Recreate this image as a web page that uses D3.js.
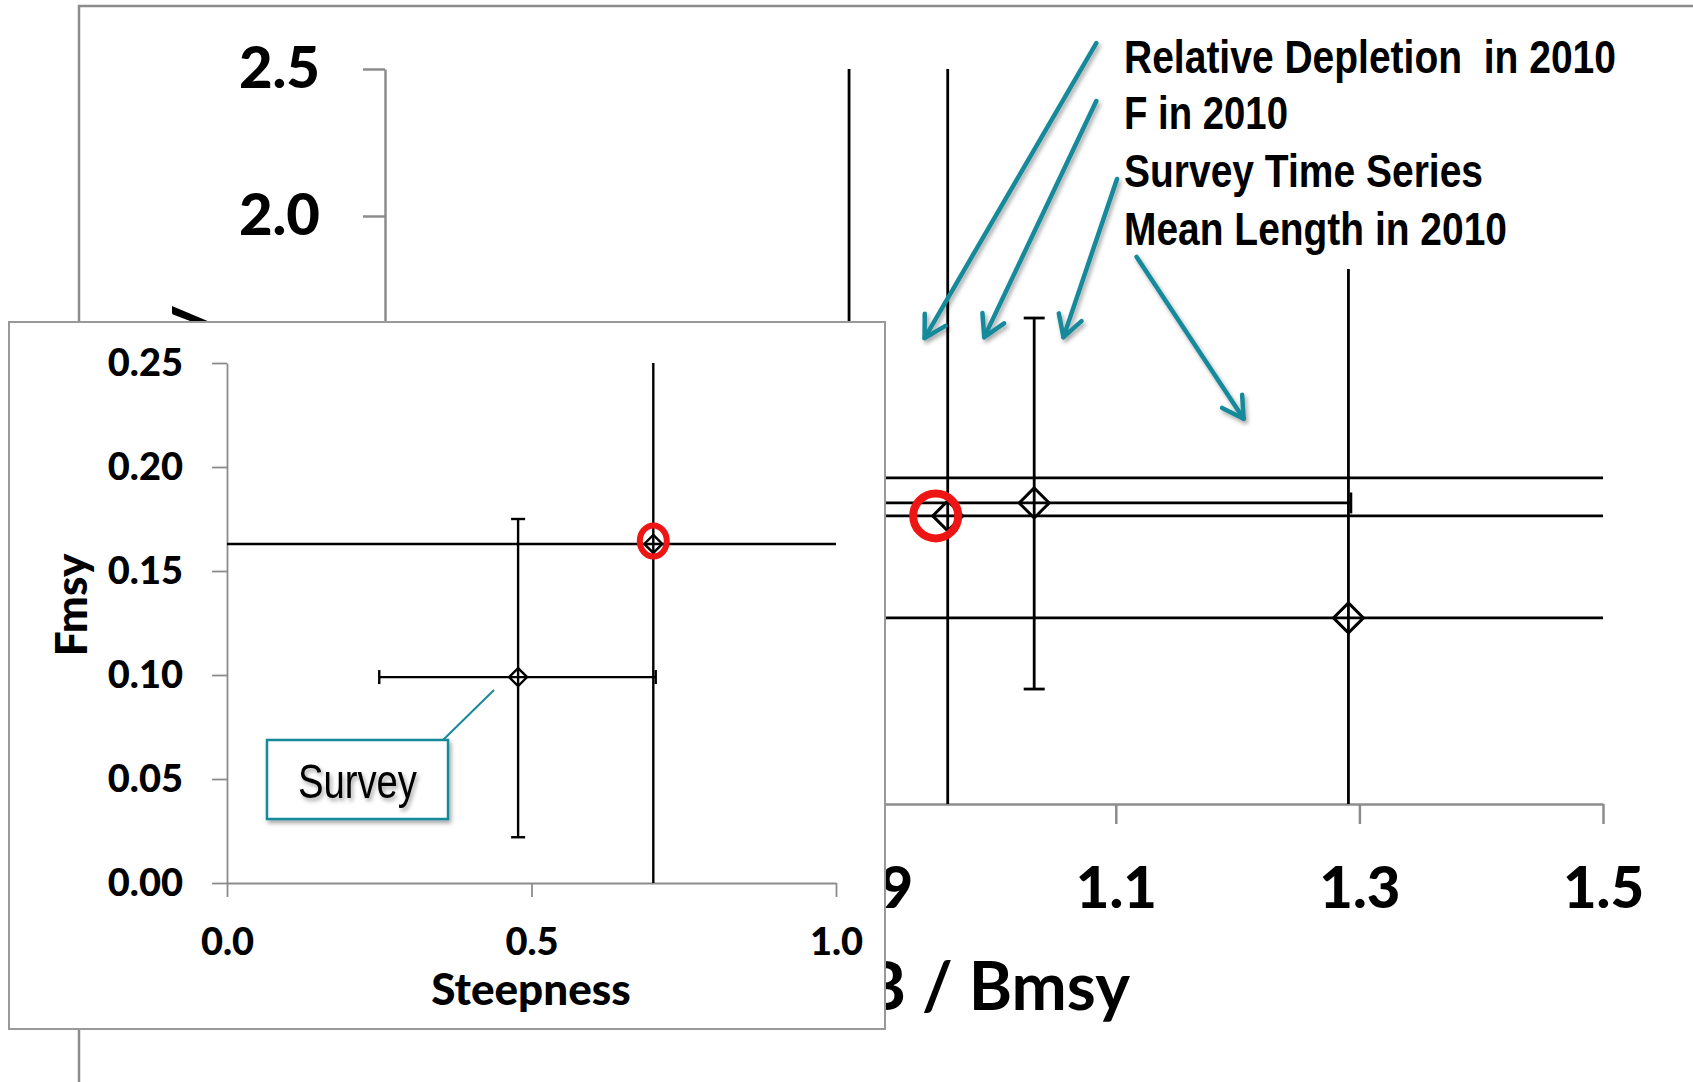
<!DOCTYPE html>
<html>
<head>
<meta charset="utf-8">
<script src="https://cdn.jsdelivr.net/npm/d3@7"></script>
<style>
    body { margin: 0; background: #fff; }
    svg { display: block; }
</style>
</head>
<body>
<svg id="chart"></svg>
<script>
// Main chart: B / Bmsy (x) vs F / Fmsy (y), one point per data type
const mainX = [0.881, 0.962, 1.033, 1.291];
const mainY = [1.109, 0.980, 1.024, 0.633];
const mainXLo = [0.40, 0.40, 0.77, 0.40];
const mainXHi = [1.60, 1.60, 1.293, 1.60];
const mainYLo = [-0.20, -0.20, 0.391, -0.20];
const mainYHi = [2.70, 2.70, 1.653, 1.82];
const mainCaps = [false, false, true, false];
const mainHighlight = 1;
const mainXTicks = [0.5, 0.7, 0.9, 1.1, 1.3, 1.5];
const mainYTicks = [0, 0.5, 1.0, 1.5, 2.0, 2.5];

// Inset: Steepness (x) vs Fmsy (y)
const steep = [0.700, 0.478];
const fmsy = [0.163, 0.099];
const steepLo = [-0.20, 0.250];
const steepHi = [1.20, 0.704];
const fmsyLo = [-0.05, 0.022];
const fmsyHi = [0.30, 0.175];
const insetCaps = [false, true];
const insetHighlight = 0;
const insetXTicks = [0, 0.5, 1.0];
const insetYTicks = [0, 0.05, 0.10, 0.15, 0.20, 0.25];

// Annotations (arrows in main-chart data units)
const labelText = ['Relative Depletion  in 2010', 'F in 2010', 'Survey Time Series', 'Mean Length in 2010'];
const arrowFrom = [[1.084, 2.588], [1.084, 2.391], [1.101, 2.126], [1.117, 1.861]];
const arrowTo = [[0.943, 1.585], [0.992, 1.588], [1.057, 1.588], [1.205, 1.310]];

const W = 1693, H = 1082;
const TEAL = '#17899a';
const RED = '#ee1515';
const AXIS_GREY = '#8c8c8c';
const NUM_FONT = "Lato, 'Open Sans', sans-serif";
const NARROW_FONT = "'Liberation Sans Narrow', 'Arial Narrow', 'Liberation Sans', Arial, sans-serif";

const svg = d3.select('#chart').attr('width', W).attr('height', H);
const defs = svg.append('defs');

// shadows
const shadow = defs.append('filter').attr('id', 'shadow')
    .attr('x', '-20%').attr('y', '-20%').attr('width', '140%').attr('height', '140%');
shadow.append('feDropShadow').attr('dx', 2).attr('dy', 3).attr('stdDeviation', 2)
    .attr('flood-color', '#000').attr('flood-opacity', 0.35);

defs.append('marker').attr('id', 'arrowhead')
    .attr('markerUnits', 'userSpaceOnUse')
    .attr('viewBox', '-26 -16 30 32')
    .attr('markerWidth', 30).attr('markerHeight', 32)
    .attr('refX', 0).attr('refY', 0)
    .attr('orient', 'auto')
    .append('path')
    .attr('d', 'M-21,-12 L0,0 L-21,12')
    .attr('fill', 'none').attr('stroke', TEAL)
    .attr('stroke-width', 4.5).attr('stroke-linecap', 'round').attr('stroke-linejoin', 'round');

const diamond = s => `M0,${-s}L${s},0L0,${s}L${-s},0Z`;

// ---------- main chart ----------
const mx = d3.scaleLinear().domain([0.5, 1.5]).range([385, 1603]);
const my = d3.scaleLinear().domain([0, 2.5]).range([804, 69]);

// outer frame (runs off the page at right and bottom)
svg.append('rect')
    .attr('x', 79).attr('y', 6).attr('width', 1700).attr('height', 1200)
    .attr('fill', '#fff').attr('stroke', AXIS_GREY).attr('stroke-width', 2.5);

defs.append('clipPath').attr('id', 'mainClip').append('rect')
    .attr('x', mx.range()[0]).attr('y', my.range()[1])
    .attr('width', mx.range()[1] - mx.range()[0]).attr('height', my.range()[0] - my.range()[1]);

const gYMain = svg.append('g').attr('transform', `translate(${mx.range()[0]},0)`)
    .call(d3.axisLeft(my).tickValues(mainYTicks).tickSize(22).tickSizeOuter(0).tickFormat(d3.format('.1f')));
const gXMain = svg.append('g').attr('transform', `translate(0,${my.range()[0]})`)
    .call(d3.axisBottom(mx).tickValues(mainXTicks).tickSize(20).tickSizeOuter(0).tickFormat(d3.format('.1f')));
[gYMain, gXMain].forEach(g => {
    g.select('.domain').attr('stroke', AXIS_GREY).attr('stroke-width', 2.5);
    g.selectAll('.tick line').attr('stroke', AXIS_GREY).attr('stroke-width', 2.5);
    g.selectAll('.tick text').attr('fill', '#000').attr('font-family', NUM_FONT)
        .attr('font-weight', 900).attr('font-size', 58);
});
gYMain.selectAll('.tick text').attr('x', -65).attr('dy', '0.32em');
gXMain.selectAll('.tick text').attr('y', 104).attr('dy', null);

svg.append('text')
    .attr('transform', 'translate(206,306) rotate(-90)')
    .attr('text-anchor', 'end')
    .attr('font-family', NUM_FONT).attr('font-weight', 700).attr('font-size', 66)
    .text('F / Fmsy');
svg.append('text')
    .attr('x', 1130).attr('y', 1010).attr('text-anchor', 'end')
    .attr('font-family', NUM_FONT).attr('font-weight', 700).attr('font-size', 66)
    .text('B / Bmsy');

function drawErrorPoints(g, xs, ys, xlo, xhi, ylo, yhi, caps, sx, sy, opt) {
    const idx = d3.range(xs.length);
    const lines = g.append('g').attr('clip-path', `url(#${opt.clip})`)
        .attr('stroke', '#000').attr('fill', 'none');
    lines.selectAll('.hbar').data(idx).join('line')
        .attr('x1', i => sx(xlo[i])).attr('x2', i => sx(xhi[i]))
        .attr('y1', i => sy(ys[i])).attr('y2', i => sy(ys[i]))
        .attr('stroke-width', opt.lw);
    lines.selectAll('.vbar').data(idx).join('line')
        .attr('x1', i => sx(xs[i])).attr('x2', i => sx(xs[i]))
        .attr('y1', i => sy(ylo[i])).attr('y2', i => sy(yhi[i]))
        .attr('stroke-width', opt.lw);
    const capped = idx.filter(i => caps[i]);
    const c = opt.cap;
    capped.forEach(i => {
        [xlo[i], xhi[i]].forEach(v => lines.append('line')
            .attr('x1', sx(v)).attr('x2', sx(v))
            .attr('y1', sy(ys[i]) - c).attr('y2', sy(ys[i]) + c)
            .attr('stroke-width', opt.lw));
        [ylo[i], yhi[i]].forEach(v => lines.append('line')
            .attr('x1', sx(xs[i]) - c).attr('x2', sx(xs[i]) + c)
            .attr('y1', sy(v)).attr('y2', sy(v))
            .attr('stroke-width', opt.lw));
    });
    g.selectAll('.marker').data(idx).join('path')
        .attr('transform', i => `translate(${sx(xs[i])},${sy(ys[i])})`)
        .attr('d', diamond(opt.size))
        .attr('fill', 'none').attr('stroke', '#000').attr('stroke-width', opt.mw);
}

const gMain = svg.append('g');
drawErrorPoints(gMain, mainX, mainY, mainXLo, mainXHi, mainYLo, mainYHi, mainCaps, mx, my,
    { clip: 'mainClip', lw: 2.8, mw: 3, cap: 10.5, size: 15 });

gMain.append('circle')
    .attr('cx', mx(mainX[mainHighlight]) - 12).attr('cy', my(mainY[mainHighlight]))
    .attr('r', 22.5).attr('fill', 'none').attr('stroke', RED).attr('stroke-width', 8);

// arrows and labels
const gArrows = svg.append('g').attr('filter', 'url(#shadow)');
gArrows.selectAll('line').data(d3.range(arrowFrom.length)).join('line')
    .attr('x1', i => mx(arrowFrom[i][0])).attr('y1', i => my(arrowFrom[i][1]))
    .attr('x2', i => mx(arrowTo[i][0])).attr('y2', i => my(arrowTo[i][1]))
    .attr('stroke', TEAL).attr('stroke-width', 4.5).attr('stroke-linecap', 'round')
    .attr('marker-end', 'url(#arrowhead)');

const labelBase = [73, 129, 187, 245];
const labelWidth = [492, 164, 359, 383];
svg.append('g').selectAll('text').data(labelText).join('text')
    .attr('x', 1124).attr('y', (d, i) => labelBase[i])
    .attr('textLength', (d, i) => labelWidth[i]).attr('lengthAdjust', 'spacingAndGlyphs')
    .attr('font-family', NARROW_FONT).attr('font-weight', 700).attr('font-size', 47)
    .attr('xml:space', 'preserve')
    .text(d => d);

// ---------- inset ----------
const ix = d3.scaleLinear().domain([0, 1]).range([227, 836]);
const iy = d3.scaleLinear().domain([0, 0.25]).range([883, 363]);

svg.append('rect')
    .attr('x', 9).attr('y', 322).attr('width', 876).attr('height', 707)
    .attr('fill', '#fff').attr('stroke', '#999').attr('stroke-width', 2);

defs.append('clipPath').attr('id', 'insetClip').append('rect')
    .attr('x', ix.range()[0]).attr('y', iy.range()[1])
    .attr('width', ix.range()[1] - ix.range()[0]).attr('height', iy.range()[0] - iy.range()[1]);

const gYIn = svg.append('g').attr('transform', `translate(${ix.range()[0]},0)`)
    .call(d3.axisLeft(iy).tickValues(insetYTicks).tickSize(15).tickSizeOuter(0).tickFormat(d3.format('.2f')));
const gXIn = svg.append('g').attr('transform', `translate(0,${iy.range()[0]})`)
    .call(d3.axisBottom(ix).tickValues(insetXTicks).tickSize(14).tickSizeOuter(0).tickFormat(d3.format('.1f')));
[gYIn, gXIn].forEach(g => {
    g.select('.domain').attr('stroke', AXIS_GREY).attr('stroke-width', 1.8);
    g.selectAll('.tick line').attr('stroke', AXIS_GREY).attr('stroke-width', 1.8);
    g.selectAll('.tick text').attr('fill', '#000').attr('font-family', NUM_FONT)
        .attr('font-weight', 900).attr('font-size', 38);
});
gYIn.selectAll('.tick text').attr('x', -44).attr('dy', '0.34em');
gXIn.selectAll('.tick text').attr('y', 72).attr('dy', null);

svg.append('text')
    .attr('transform', 'translate(87,605) rotate(-90)')
    .attr('text-anchor', 'middle')
    .attr('font-family', NUM_FONT).attr('font-weight', 900).attr('font-size', 44)
    .text('Fmsy');
svg.append('text')
    .attr('x', 531).attr('y', 1005).attr('text-anchor', 'middle')
    .attr('font-family', NUM_FONT).attr('font-weight', 900).attr('font-size', 44)
    .text('Steepness');

const gIn = svg.append('g');
drawErrorPoints(gIn, steep, fmsy, steepLo, steepHi, fmsyLo, fmsyHi, insetCaps, ix, iy,
    { clip: 'insetClip', lw: 2.4, mw: 2.4, cap: 7, size: 9 });

gIn.append('ellipse')
    .attr('cx', ix(steep[insetHighlight])).attr('cy', iy(fmsy[insetHighlight]) - 3)
    .attr('rx', 13.5).attr('ry', 15.5)
    .attr('fill', 'none').attr('stroke', RED).attr('stroke-width', 6);

// "Survey" callout
svg.append('line')
    .attr('x1', 443).attr('y1', 740).attr('x2', 494).attr('y2', 690)
    .attr('stroke', TEAL).attr('stroke-width', 2);
svg.append('rect')
    .attr('x', 267).attr('y', 740).attr('width', 181).attr('height', 79)
    .attr('fill', '#fff').attr('stroke', TEAL).attr('stroke-width', 2.5)
    .attr('filter', 'url(#shadow)');
svg.append('text')
    .attr('x', 298).attr('y', 798)
    .attr('textLength', 119).attr('lengthAdjust', 'spacingAndGlyphs')
    .attr('font-family', NARROW_FONT).attr('font-size', 49)
    .attr('filter', 'url(#shadow)')
    .text('Survey');
</script>
</body>
</html>
